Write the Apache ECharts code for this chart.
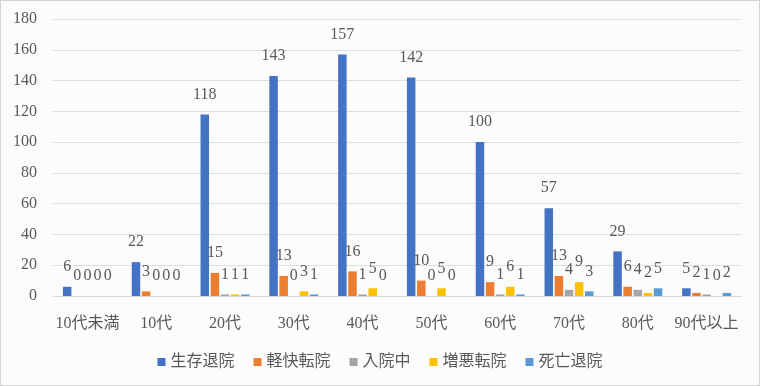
<!DOCTYPE html>
<html><head><meta charset="utf-8">
<script src="https://cdn.jsdelivr.net/npm/echarts@6/dist/echarts.min.js"></script>
<style>
html,body{margin:0;padding:0;background:#fff;}
#c{width:760px;height:386px;box-sizing:border-box;border:1px solid #d4d4d4;background:#fcfcfc;}
</style></head>
<body><div id="c"></div>
<script>
const categories = ['10代未満','10代','20代','30代','40代','50代','60代','70代','80代','90代以上'];
const seriesNames = ['生存退院','軽快転院','入院中','増悪転院','死亡退院'];
const survived   = [6, 22, 118, 143, 157, 142, 100, 57, 29, 5];
const improved   = [0, 3, 15, 13, 16, 10, 9, 13, 6, 2];
const inHospital = [0, 0, 1, 0, 1, 0, 1, 4, 4, 1];
const worsened   = [0, 0, 1, 3, 5, 5, 6, 9, 2, 0];
const died       = [0, 0, 1, 1, 0, 0, 1, 3, 5, 2];
const yTicks = [0, 20, 40, 60, 80, 100, 120, 140, 160, 180];

const colors = ['#4472C4','#ED7D31','#A5A5A5','#FFC000','#5B9BD5'];
const font = "'Liberation Serif','Noto Sans CJK JP',serif";
const textColor = '#595959';
const values = [survived, improved, inHospital, worsened, died];

const chart = echarts.init(document.getElementById('c'));
chart.setOption({
  backgroundColor: 'transparent',
  animation: false,
  color: colors,
  grid: {left: 52, right: 18, top: 18, bottom: 89, containLabel: false},
  legend: {
    bottom: 10, left: 'center', icon: 'rect', itemWidth: 8, itemHeight: 8, itemGap: 19,
    textStyle: {fontFamily: font, fontSize: 16, color: textColor},
    data: seriesNames
  },
  xAxis: {
    type: 'category', data: categories,
    axisLine: {lineStyle: {color: '#d9d9d9'}},
    axisTick: {show: false},
    axisLabel: {fontFamily: font, fontSize: 16, color: textColor, margin: 20, interval: 0}
  },
  yAxis: {
    type: 'value', min: yTicks[0], max: yTicks[yTicks.length-1], interval: 20,
    axisLine: {show: false}, axisTick: {show: false},
    axisLabel: {fontFamily: font, fontSize: 16, color: textColor, margin: 16},
    splitLine: {lineStyle: {color: '#dadfdf'}}
  },
  series: seriesNames.map((n, i) => ({
    name: n, type: 'bar', data: values[i],
    barWidth: 8.5, barGap: '19%', barCategoryGap: '29%',
    label: {show: true, position: 'top', distance: 12, fontFamily: font, fontSize: 16, color: textColor}
  }))
});
</script></body></html>
